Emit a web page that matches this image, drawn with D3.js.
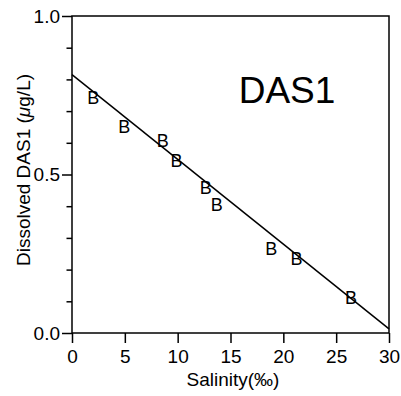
<!DOCTYPE html>
<html><head><meta charset="utf-8">
<script src="https://cdn.jsdelivr.net/npm/d3@7"></script>
<style>
body{margin:0;background:#fff;}
text{font-family:"Liberation Sans",Arial,Helvetica,sans-serif;fill:#000;}
</style></head>
<body>
<svg id="c" width="401" height="396"></svg>
<script>
const salinity = [2.0, 4.95, 8.6, 9.9, 12.65, 13.7, 18.85, 21.25, 26.4];
const das1 = [0.742, 0.651, 0.606, 0.543, 0.458, 0.404, 0.265, 0.232, 0.109];
const fitLine = {x:[0, 30], y:[0.815, 0.013]};
const xTicks = [0, 5, 10, 15, 20, 25, 30];
const yMajor = [0.0, 0.5, 1.0];
const yMinor = [0.1, 0.2, 0.3, 0.4, 0.6, 0.7, 0.8, 0.9];
const title = "DAS1";

const svg = d3.select("#c");
const L = 72, R = 389, T = 16, B = 333;
const x = d3.scaleLinear().domain([0, 30]).range([L, R]);
const y = d3.scaleLinear().domain([0, 1]).range([B, T]);

// frame
svg.append("rect").attr("x", L).attr("y", T).attr("width", R - L).attr("height", B - T)
  .attr("fill", "none").attr("stroke", "#000").attr("stroke-width", 1.5);

// x axis
const xa = svg.append("g").attr("transform", `translate(0,${B})`)
  .call(d3.axisBottom(x).tickValues(xTicks).tickFormat(d3.format("d")).tickSize(10).tickPadding(7));
xa.select(".domain").remove();
xa.selectAll("line").attr("stroke-width", 1.5);
xa.selectAll("text").attr("font-size", 19);

// y axis major
const ya = svg.append("g").attr("transform", `translate(${L},0)`)
  .call(d3.axisLeft(y).tickValues(yMajor).tickFormat(d3.format(".1f")).tickSize(10).tickPadding(2));
ya.select(".domain").remove();
ya.selectAll("line").attr("stroke-width", 1.5);
ya.selectAll("text").attr("font-size", 19);
// y axis minor
const ym = svg.append("g").attr("transform", `translate(${L},0)`)
  .call(d3.axisLeft(y).tickValues(yMinor).tickFormat("").tickSize(5.5));
ym.select(".domain").remove();
ym.selectAll("line").attr("stroke-width", 1.5);

// fit line
const line = d3.line().x(d => x(d[0])).y(d => y(d[1]));
svg.append("path").datum(d3.zip(fitLine.x, fitLine.y)).attr("d", line)
  .attr("fill", "none").attr("stroke", "#000").attr("stroke-width", 1.5);

// points
svg.append("g").selectAll("text").data(d3.zip(salinity, das1)).join("text")
  .attr("x", d => x(d[0])).attr("y", d => y(d[1]))
  .attr("text-anchor", "middle").attr("dominant-baseline", "central")
  .attr("font-size", 18).text("B");

// title
svg.append("text").attr("x", 287).attr("y", 103).attr("text-anchor", "middle")
  .attr("font-size", 37).text(title);

// axis labels
svg.append("text").attr("x", 233).attr("y", 386).attr("text-anchor", "middle")
  .attr("font-size", 19).text("Salinity(‰)");
const yl = svg.append("text").attr("transform", "translate(30,170) rotate(-90)")
  .attr("text-anchor", "middle").attr("font-size", 19);
yl.append("tspan").text("Dissolved DAS1 (");
yl.append("tspan").attr("font-style", "italic").text("μ");
yl.append("tspan").text("g/L)");
</script>
</body></html>
